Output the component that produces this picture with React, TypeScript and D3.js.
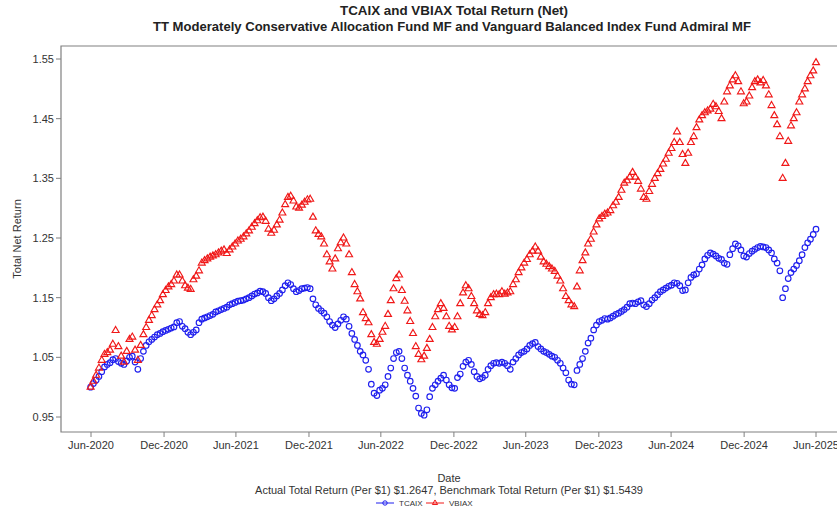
import React from "react";
import * as d3 from "d3";

const START_DATE = "2020-06-29";
const TCAIX = [
  1.000, 1.006, 1.012, 1.018, 1.026, 1.034, 1.038, 1.041, 1.046, 1.048,
  1.043, 1.040, 1.038, 1.044, 1.050, 1.052, 1.042, 1.030, 1.048, 1.060,
  1.070, 1.076, 1.080, 1.084, 1.088, 1.090, 1.093, 1.095, 1.097, 1.099,
  1.101, 1.108, 1.110, 1.102, 1.098, 1.092, 1.088, 1.092, 1.096, 1.108,
  1.114, 1.116, 1.118, 1.120, 1.122, 1.126, 1.128, 1.130, 1.132, 1.134,
  1.138, 1.140, 1.142, 1.144, 1.145, 1.146, 1.148, 1.150, 1.153, 1.156,
  1.158, 1.161, 1.160, 1.157, 1.150, 1.145, 1.148, 1.153, 1.157, 1.163,
  1.170, 1.175, 1.172, 1.165, 1.160, 1.162, 1.165, 1.166, 1.167, 1.165,
  1.148, 1.138, 1.132, 1.128, 1.124, 1.118, 1.110, 1.104, 1.100, 1.106,
  1.112, 1.118, 1.114, 1.102, 1.090, 1.080, 1.070, 1.060, 1.054, 1.045,
  1.030, 1.005, 0.990, 0.986, 0.995, 0.998, 1.004, 1.018, 1.032, 1.048,
  1.058, 1.060, 1.048, 1.032, 1.020, 1.010, 0.998, 0.985, 0.965, 0.956,
  0.953, 0.962, 0.984, 0.998, 1.004, 1.010, 1.015, 1.020, 1.012, 1.004,
  0.999, 0.998, 1.016, 1.022, 1.035, 1.042, 1.045, 1.038, 1.026, 1.018,
  1.014, 1.016, 1.020, 1.030, 1.036, 1.040, 1.041, 1.040, 1.042, 1.040,
  1.036, 1.030, 1.042, 1.048, 1.054, 1.058, 1.060, 1.064, 1.070, 1.073,
  1.075, 1.068, 1.064, 1.060, 1.058, 1.055, 1.052, 1.050, 1.045, 1.040,
  1.032, 1.024, 1.012, 1.005, 1.004, 1.028, 1.038, 1.048, 1.060, 1.074,
  1.082, 1.096, 1.104, 1.110, 1.112, 1.115, 1.114, 1.116, 1.119, 1.122,
  1.124, 1.127, 1.130, 1.134, 1.140, 1.141, 1.140, 1.143, 1.145, 1.138,
  1.135, 1.140, 1.146, 1.150, 1.155, 1.160, 1.163, 1.166, 1.169, 1.171,
  1.175, 1.174, 1.170, 1.162, 1.163, 1.175, 1.184, 1.188, 1.190, 1.198,
  1.205, 1.215, 1.221, 1.225, 1.223, 1.220, 1.216, 1.214, 1.208, 1.206,
  1.222, 1.232, 1.240, 1.237, 1.230, 1.220, 1.218, 1.224, 1.228, 1.231,
  1.234, 1.236, 1.235, 1.234, 1.230, 1.225, 1.215, 1.208, 1.195, 1.150,
  1.165, 1.182, 1.192, 1.198, 1.204, 1.212, 1.222, 1.234, 1.242, 1.248,
  1.256, 1.2647,
];
const VBIAX = [
  1.000, 1.010, 1.020, 1.032, 1.045, 1.055, 1.058, 1.062, 1.072, 1.095,
  1.068, 1.052, 1.042, 1.060, 1.080, 1.084, 1.062, 1.045, 1.070, 1.088,
  1.100, 1.112, 1.120, 1.130, 1.138, 1.145, 1.155, 1.162, 1.168, 1.172,
  1.178, 1.188, 1.188, 1.178, 1.170, 1.166, 1.164, 1.180, 1.186, 1.195,
  1.208, 1.212, 1.215, 1.218, 1.220, 1.222, 1.225, 1.228, 1.230, 1.224,
  1.230, 1.235, 1.240, 1.245, 1.248, 1.252, 1.257, 1.262, 1.268, 1.274,
  1.279, 1.284, 1.285, 1.278, 1.265, 1.258, 1.263, 1.272, 1.280, 1.292,
  1.306, 1.318, 1.320, 1.312, 1.302, 1.300, 1.305, 1.310, 1.314, 1.315,
  1.285, 1.262, 1.256, 1.252, 1.240, 1.222, 1.210, 1.198, 1.215, 1.232,
  1.242, 1.250, 1.240, 1.222, 1.192, 1.172, 1.160, 1.148, 1.125, 1.115,
  1.108, 1.088, 1.075, 1.072, 1.080, 1.092, 1.102, 1.122, 1.145, 1.165,
  1.182, 1.188, 1.162, 1.144, 1.128, 1.110, 1.090, 1.068, 1.055, 1.046,
  1.052, 1.065, 1.080, 1.100, 1.118, 1.130, 1.140, 1.132, 1.118, 1.102,
  1.096, 1.100, 1.118, 1.140, 1.158, 1.170, 1.165, 1.152, 1.140, 1.128,
  1.122, 1.120, 1.125, 1.140, 1.150, 1.155, 1.156, 1.155, 1.160, 1.156,
  1.158, 1.160, 1.172, 1.180, 1.192, 1.200, 1.208, 1.214, 1.222, 1.228,
  1.235, 1.228, 1.218, 1.210, 1.206, 1.202, 1.198, 1.194, 1.186, 1.178,
  1.165, 1.152, 1.145, 1.138, 1.135, 1.168, 1.195, 1.212, 1.225, 1.240,
  1.248, 1.260, 1.272, 1.282, 1.286, 1.290, 1.292, 1.296, 1.304, 1.310,
  1.318, 1.330, 1.342, 1.346, 1.352, 1.360, 1.352, 1.345, 1.332, 1.318,
  1.315, 1.328, 1.340, 1.350, 1.358, 1.365, 1.374, 1.382, 1.392, 1.400,
  1.410, 1.428, 1.410, 1.390, 1.375, 1.392, 1.410, 1.420, 1.435, 1.448,
  1.455, 1.460, 1.463, 1.466, 1.474, 1.470, 1.462, 1.450, 1.478, 1.495,
  1.505, 1.515, 1.522, 1.512, 1.495, 1.475, 1.478, 1.488, 1.502, 1.512,
  1.515, 1.510, 1.514, 1.505, 1.490, 1.472, 1.455, 1.440, 1.420, 1.350,
  1.375, 1.412, 1.438, 1.450, 1.460, 1.478, 1.490, 1.500, 1.512, 1.522,
  1.530, 1.5439,
];
const X_TICKS = [
  "2020-06-30", "2020-12-31", "2021-06-30", "2021-12-31", "2022-06-30", "2022-12-31",
  "2023-06-30", "2023-12-31", "2024-06-30", "2024-12-31", "2025-06-30",
];
const Y_TICKS = [0.95, 1.05, 1.15, 1.25, 1.35, 1.45, 1.55];
const SERIES_NAMES = ["TCAIX", "VBIAX"];
const TITLE_1 = "TCAIX and VBIAX Total Return (Net)";
const TITLE_2 = "TT Moderately Conservative Allocation Fund MF and Vanguard Balanced Index Fund Admiral MF";
const Y_LABEL = "Total Net Return";
const X_LABEL = "Date";
const FOOTNOTE = "Actual Total Return (Per $1) $1.2647,  Benchmark Total Return (Per $1) $1.5439";

const W = 837;
const H = 508;
const FRAME = { left: 61, right: 837, top: 46, bottom: 432 };
const BLUE = "#1f1fee";
const RED = "#f01818";
const TXT = "#333";
const AXIS = "#808080";
const FONT = "'Liberation Sans', Arial, sans-serif";

export default function App() {
  const parse = d3.utcParse("%Y-%m-%d");
  const start = parse(START_DATE) as Date;
  const dates = TCAIX.map((_, i) => d3.utcDay.offset(start, i * 7));
  const tickDates = X_TICKS.map((s) => parse(s) as Date);

  const x = d3.scaleUtc().domain([tickDates[0], tickDates[tickDates.length - 1]]).range([91, 816]);
  const y = d3.scaleLinear().domain([0.95, 1.55]).range([417, 59]);
  const fmt = d3.utcFormat("%b-%Y");
  const tri = d3.symbol(d3.symbolTriangle, 21)() as string;

  return (
    <svg
      width={W}
      height={H}
      style={{ position: "absolute", left: 0, top: 0, background: "#fff" }}
      fontFamily={FONT}
    >
      <rect x={0} y={0} width={W} height={H} fill="#fff" />
      <text x={454} y={15} textAnchor="middle" fontSize={12.5} fontWeight="bold" fill="#222"
        textLength={228} lengthAdjust="spacingAndGlyphs">
        {TITLE_1}
      </text>
      <text x={452} y={31} textAnchor="middle" fontSize={12.5} fontWeight="bold" fill="#222"
        textLength={598} lengthAdjust="spacingAndGlyphs">
        {TITLE_2}
      </text>

      {/* frame */}
      <path
        d={`M${FRAME.right},${FRAME.top}H${FRAME.left}V${FRAME.bottom}H${FRAME.right}`}
        fill="none"
        stroke={AXIS}
        strokeWidth={1.2}
      />

      {/* y axis */}
      {Y_TICKS.map((t) => (
        <g key={t}>
          <line x1={FRAME.left - 5} x2={FRAME.left} y1={y(t)} y2={y(t)} stroke={AXIS} />
          <text x={FRAME.left - 7} y={y(t) + 4} textAnchor="end" fontSize={11} fill={TXT}>
            {t.toFixed(2)}
          </text>
        </g>
      ))}
      <text
        transform={`translate(21,${(FRAME.top + FRAME.bottom) / 2}) rotate(-90)`}
        textAnchor="middle"
        fontSize={11}
        fill={TXT}
      >
        {Y_LABEL}
      </text>

      {/* x axis */}
      {tickDates.map((d) => (
        <g key={+d}>
          <line x1={x(d)} x2={x(d)} y1={FRAME.bottom} y2={FRAME.bottom + 5} stroke={AXIS} />
          <text x={x(d)} y={FRAME.bottom + 17} textAnchor="middle" fontSize={11} fill={TXT}>
            {fmt(d)}
          </text>
        </g>
      ))}
      <text x={449} y={482} textAnchor="middle" fontSize={11} fill={TXT}>
        {X_LABEL}
      </text>
      <text x={449} y={494} textAnchor="middle" fontSize={11} fill={TXT}>
        {FOOTNOTE}
      </text>

      {/* data */}
      <g fill="none" strokeWidth={1.15}>
        {TCAIX.map((v, i) => (
          <circle key={"b" + i} cx={x(dates[i])} cy={y(v)} r={2.8} stroke={BLUE} />
        ))}
        {VBIAX.map((v, i) => (
          <path key={"r" + i} d={tri} transform={`translate(${x(dates[i])},${y(v)})`} stroke={RED} />
        ))}
      </g>

      {/* legend */}
      <g fontSize={8} fill={TXT}>
        <line x1={376} x2={394} y1={503} y2={503} stroke={BLUE} />
        <circle cx={385} cy={503} r={2.2} fill="none" stroke={BLUE} />
        <text x={399} y={506}>{SERIES_NAMES[0]}</text>
        <line x1={426} x2={444} y1={503} y2={503} stroke={RED} />
        <path d={d3.symbol(d3.symbolTriangle, 12)() as string} transform="translate(435,503)" fill="none" stroke={RED} />
        <text x={449} y={506}>{SERIES_NAMES[1]}</text>
      </g>
    </svg>
  );
}
